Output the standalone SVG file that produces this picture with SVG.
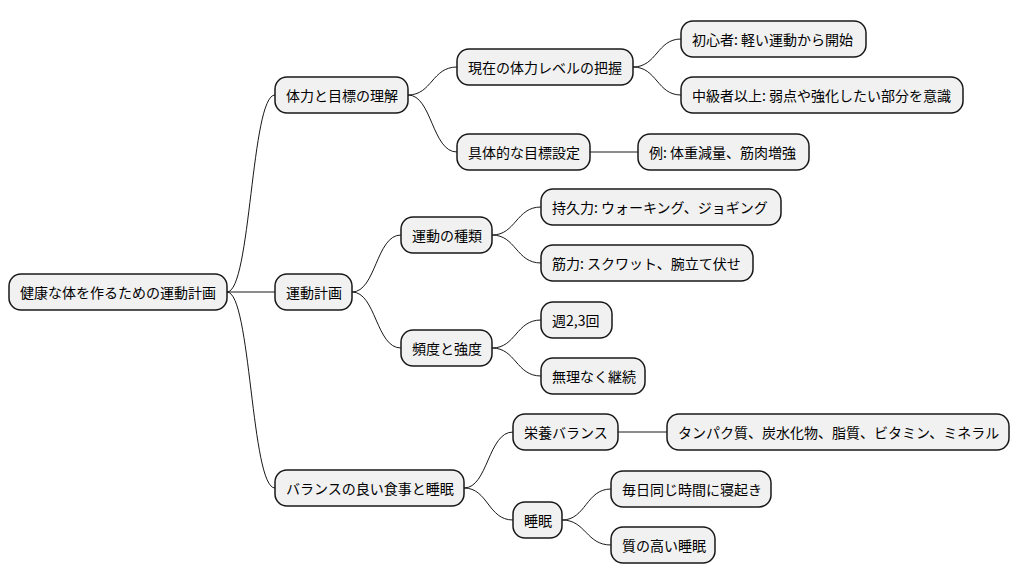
<svg xmlns="http://www.w3.org/2000/svg" width="1020" height="583" viewBox="0 0 1020 583">
<style>
.n rect{fill:#F1F1F1;stroke:#181818;stroke-width:1.5}
.n text{font-family:"Noto Sans CJK JP","Liberation Sans",sans-serif;font-size:14px;fill:#000;dominant-baseline:central}
#c path{fill:none;stroke:#181818;stroke-width:1}
</style>
<rect width="1020" height="583" fill="#fff"/>
<g id="c">
<path d="M227,292 C251,292 251,95 275,95"/>
<path d="M227,292 L275,292"/>
<path d="M227,292 C251,292 251,488 275,488"/>
<path d="M408,95 C432,95 432,67 457,67"/>
<path d="M408,95 C432,95 432,152 457,152"/>
<path d="M633,67 C657,67 657,39 681,39"/>
<path d="M633,67 C657,67 657,95 681,95"/>
<path d="M590,152 L638,152"/>
<path d="M352,292 C376,292 376,235 401,235"/>
<path d="M352,292 C376,292 376,348 401,348"/>
<path d="M492,235 C516,235 516,207 541,207"/>
<path d="M492,235 C516,235 516,263 541,263"/>
<path d="M492,348 C516,348 516,320 541,320"/>
<path d="M492,348 C516,348 516,376 541,376"/>
<path d="M464,488 C488,488 488,432 513,432"/>
<path d="M464,488 C488,488 488,520 513,520"/>
<path d="M618,432 L667,432"/>
<path d="M562,520 C586,520 586,489 611,489"/>
<path d="M562,520 C586,520 586,545 611,545"/>
</g>
<g id="root" class="n"><rect x="9" y="274" width="218" height="36" rx="12"/><text x="20" y="292">健康な体を作るための運動計画</text></g>
<g id="n1" class="n"><rect x="275" y="77" width="133" height="36" rx="12"/><text x="286" y="95">体力と目標の理解</text></g>
<g id="n11" class="n"><rect x="457" y="49" width="176" height="36" rx="12"/><text x="468" y="67">現在の体力レベルの把握</text></g>
<g id="n111" class="n"><rect x="681" y="21" width="185" height="36" rx="12"/><text x="692" y="39">初心者: 軽い運動から開始</text></g>
<g id="n112" class="n"><rect x="681" y="77" width="282" height="36" rx="12"/><text x="692" y="95">中級者以上: 弱点や強化したい部分を意識</text></g>
<g id="n12" class="n"><rect x="457" y="134" width="133" height="36" rx="12"/><text x="468" y="152">具体的な目標設定</text></g>
<g id="n121" class="n"><rect x="638" y="134" width="171" height="36" rx="12"/><text x="649" y="152">例: 体重減量、筋肉増強</text></g>
<g id="n2" class="n"><rect x="275" y="274" width="77" height="36" rx="12"/><text x="286" y="292">運動計画</text></g>
<g id="n21" class="n"><rect x="401" y="217" width="91" height="36" rx="12"/><text x="412" y="235">運動の種類</text></g>
<g id="n211" class="n"><rect x="541" y="189" width="240" height="36" rx="12"/><text x="552" y="207">持久力: ウォーキング、ジョギング</text></g>
<g id="n212" class="n"><rect x="541" y="245" width="212" height="36" rx="12"/><text x="552" y="263">筋力: スクワット、腕立て伏せ</text></g>
<g id="n22" class="n"><rect x="401" y="330" width="91" height="36" rx="12"/><text x="412" y="348">頻度と強度</text></g>
<g id="n221" class="n"><rect x="541" y="302" width="71" height="36" rx="12"/><text x="552" y="320">週2,3回</text></g>
<g id="n222" class="n"><rect x="541" y="358" width="104" height="36" rx="12"/><text x="552" y="376">無理なく継続</text></g>
<g id="n3" class="n"><rect x="275" y="470" width="189" height="36" rx="12"/><text x="286" y="488">バランスの良い食事と睡眠</text></g>
<g id="n31" class="n"><rect x="513" y="414" width="105" height="36" rx="12"/><text x="524" y="432">栄養バランス</text></g>
<g id="n311" class="n"><rect x="667" y="414" width="342" height="36" rx="12"/><text x="678" y="432">タンパク質、炭水化物、脂質、ビタミン、ミネラル</text></g>
<g id="n32" class="n"><rect x="513" y="502" width="49" height="36" rx="12"/><text x="524" y="520">睡眠</text></g>
<g id="n321" class="n"><rect x="611" y="471" width="160" height="36" rx="12"/><text x="622" y="489">毎日同じ時間に寝起き</text></g>
<g id="n322" class="n"><rect x="611" y="527" width="104" height="36" rx="12"/><text x="622" y="545">質の高い睡眠</text></g>
</svg>
